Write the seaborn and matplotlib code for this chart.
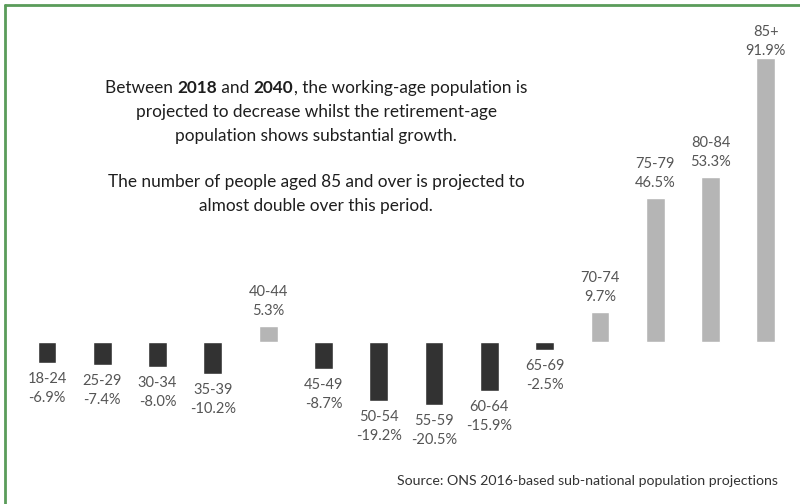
import matplotlib
matplotlib.use("Agg")
import matplotlib.pyplot as plt
from matplotlib.lines import Line2D
import seaborn as sns
import pandas as pd

# Projected change in population by age group, 2018-2040 (%)
age_groups = ["18-24", "25-29", "30-34", "35-39", "40-44", "45-49", "50-54",
              "55-59", "60-64", "65-69", "70-74", "75-79", "80-84", "85+"]
pct_change = [-6.9, -7.4, -8.0, -10.2, 5.3, -8.7, -19.2,
              -20.5, -15.9, -2.5, 9.7, 46.5, 53.3, 91.9]

headline = [
    [("Between ", False), ("2018", True), (" and ", False), ("2040", True),
     (", the working-age population is", False)],
    [("projected to decrease whilst the retirement-age", False)],
    [("population shows substantial growth.", False)],
    [("The number of people aged 85 and over is projected to", False)],
    [("almost double over this period.", False)],
]
source_note = "Source: ONS 2016-based sub-national population projections"

sns.set_style("white")
plt.rcParams["font.family"] = ["Lato", "DejaVu Sans"]

W, H = 800, 504
fig = plt.figure(figsize=(W / 100, H / 100), dpi=100)
fig.patch.set_facecolor("white")
ax = fig.add_axes([0, 0, 1, 1])

df = pd.DataFrame({
    "age": age_groups,
    "change": pct_change,
    "direction": ["Increase" if v > 0 else "Decrease" for v in pct_change],
})
sns.barplot(data=df, x="age", y="change", hue="direction",
            palette={"Decrease": "#323232", "Increase": "#b5b5b5"},
            dodge=False, width=0.34, saturation=1, legend=False, ax=ax)

ax.set_xlim(-0.85, 13.617)
ax.set_ylim(-52.4, 110.7)
ax.axis("off")

label_color = "#555555"
label_size = 10.5
fig.canvas.draw()
for i, (cat, v) in enumerate(zip(age_groups, pct_change)):
    _, end_px = ax.transData.transform((i, v))
    end_from_top = H - end_px
    val_txt = f"{v:.1f}%"
    if v < 0:
        y1 = end_from_top + 16
        y2 = y1 + 19
    else:
        y2 = max(end_from_top - 15, 51)
        y1 = y2 - 19
    x_px, _ = ax.transData.transform((i, 0))
    for txt, yy in ((cat, y1), (val_txt, y2)):
        fig.text(x_px / W, 1 - yy / H, txt, ha="center", va="center",
                 fontsize=label_size, color=label_color)

# Headline paragraph with bold years
renderer = fig.canvas.get_renderer()
head_size = 12.4
head_color = "#1e1e1e"


def advance(s, bold):
    w = "bold" if bold else "normal"
    t1 = fig.text(0, 0, s + "|", fontsize=head_size, fontweight=w)
    t2 = fig.text(0, 0, "|", fontsize=head_size, fontweight=w)
    a = t1.get_window_extent(renderer).width - t2.get_window_extent(renderer).width
    t1.remove()
    t2.remove()
    return a


line_y = [88, 112.5, 136.5, 182, 206.5]
cx = 316
for pieces, yy in zip(headline, line_y):
    widths = [advance(s, b) for s, b in pieces]
    x = cx - sum(widths) / 2
    for (s, b), w in zip(pieces, widths):
        fig.text(x / W, 1 - yy / H, s, ha="left", va="center",
                 fontsize=head_size, fontweight="bold" if b else "normal",
                 color=head_color)
        x += w

fig.text(778 / W, 1 - 481 / H, source_note, ha="right", va="center",
         fontsize=10.2, color="#333333")

# Frame accents along the top and left edges
green = "#5a9c5a"
fig.add_artist(Line2D([5 / W, 5 / W], [0, 1 - 5 / H], transform=fig.transFigure,
                      color=green, linewidth=2))
fig.add_artist(Line2D([5 / W, 1], [1 - 5 / H, 1 - 5 / H], transform=fig.transFigure,
                      color=green, linewidth=2))

fig.savefig("out.png", dpi=100, facecolor="white")
